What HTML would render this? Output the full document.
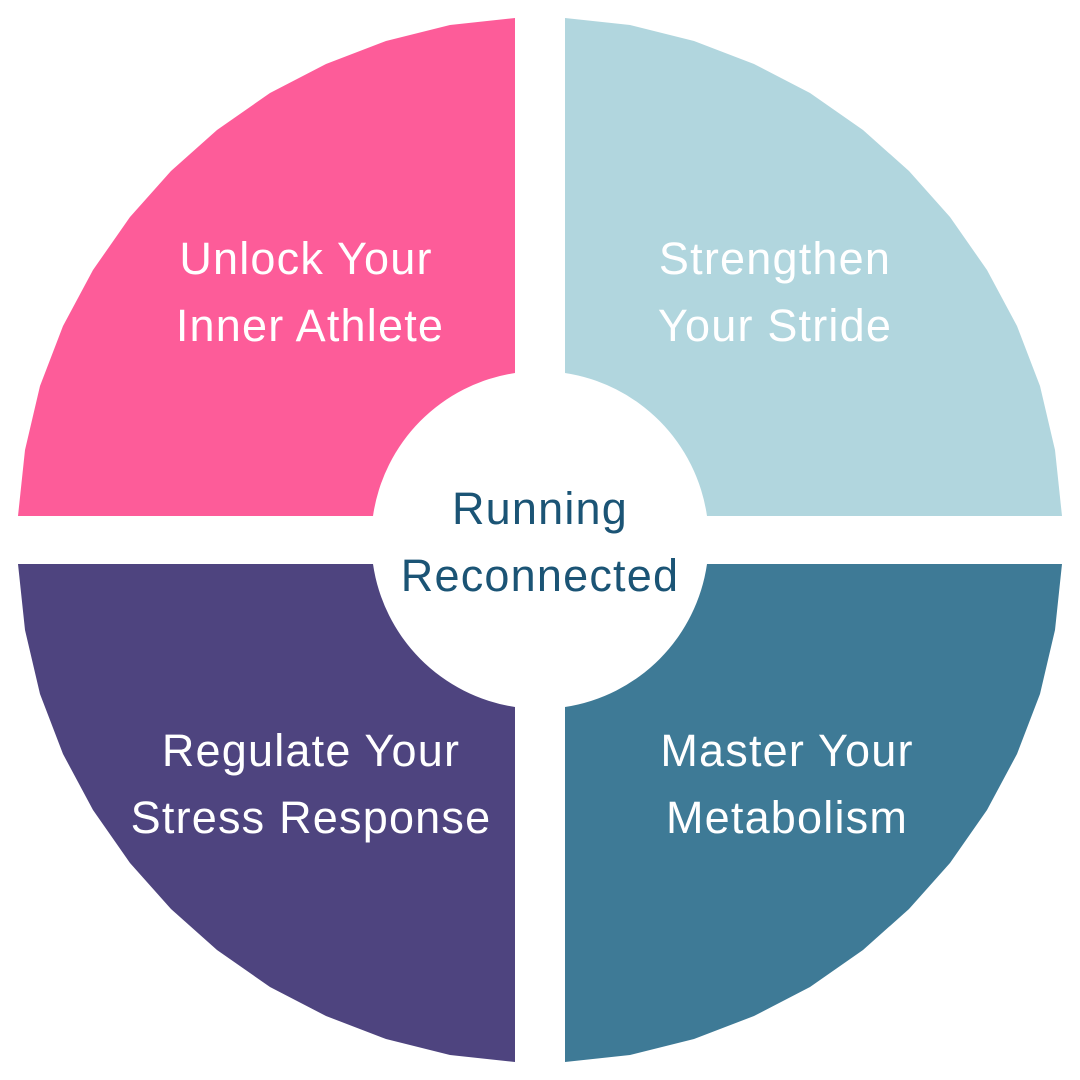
<!DOCTYPE html>
<html><head><meta charset="utf-8"><style>
html,body{margin:0;padding:0;background:#fff;}
svg{display:block;}
text{font-family:"Liberation Sans",sans-serif;font-size:45px;letter-spacing:1.2px;text-anchor:middle;}
</style></head><body>
<svg width="1080" height="1080" viewBox="0 0 1080 1080" xmlns="http://www.w3.org/2000/svg">
<defs>
<path id="q" d="M515,18 L450,25 L386,41 L326,64 L270,93 L217,130 L171,171 L130,217 L93,270 L63,326 L40,386 L25,450 L18,516 L373,516 A169,169 0 0 1 515,373 Z"/>
</defs>
<use href="#q" fill="#FD5C99"/>
<use href="#q" fill="#B1D6DE" transform="translate(1080,0) scale(-1,1)"/>
<use href="#q" fill="#4E447F" transform="translate(0,1080) scale(1,-1)"/>
<use href="#q" fill="#3E7A96" transform="translate(1080,1080) scale(-1,-1)"/>
<g fill="#fff">
<text x="306" y="274">Unlock Your</text>
<text x="310" y="341">Inner Athlete</text>
<text x="775" y="274">Strengthen</text>
<text x="775" y="341">Your Stride</text>
<text x="311" y="766">Regulate Your</text>
<text x="311" y="833">Stress Response</text>
<text x="787" y="766">Master Your</text>
<text x="787" y="833">Metabolism</text>
</g>
<g fill="#1B5475">
<text x="540" y="524">Running</text>
<text x="540" y="591">Reconnected</text>
</g>
</svg>
</body></html>
